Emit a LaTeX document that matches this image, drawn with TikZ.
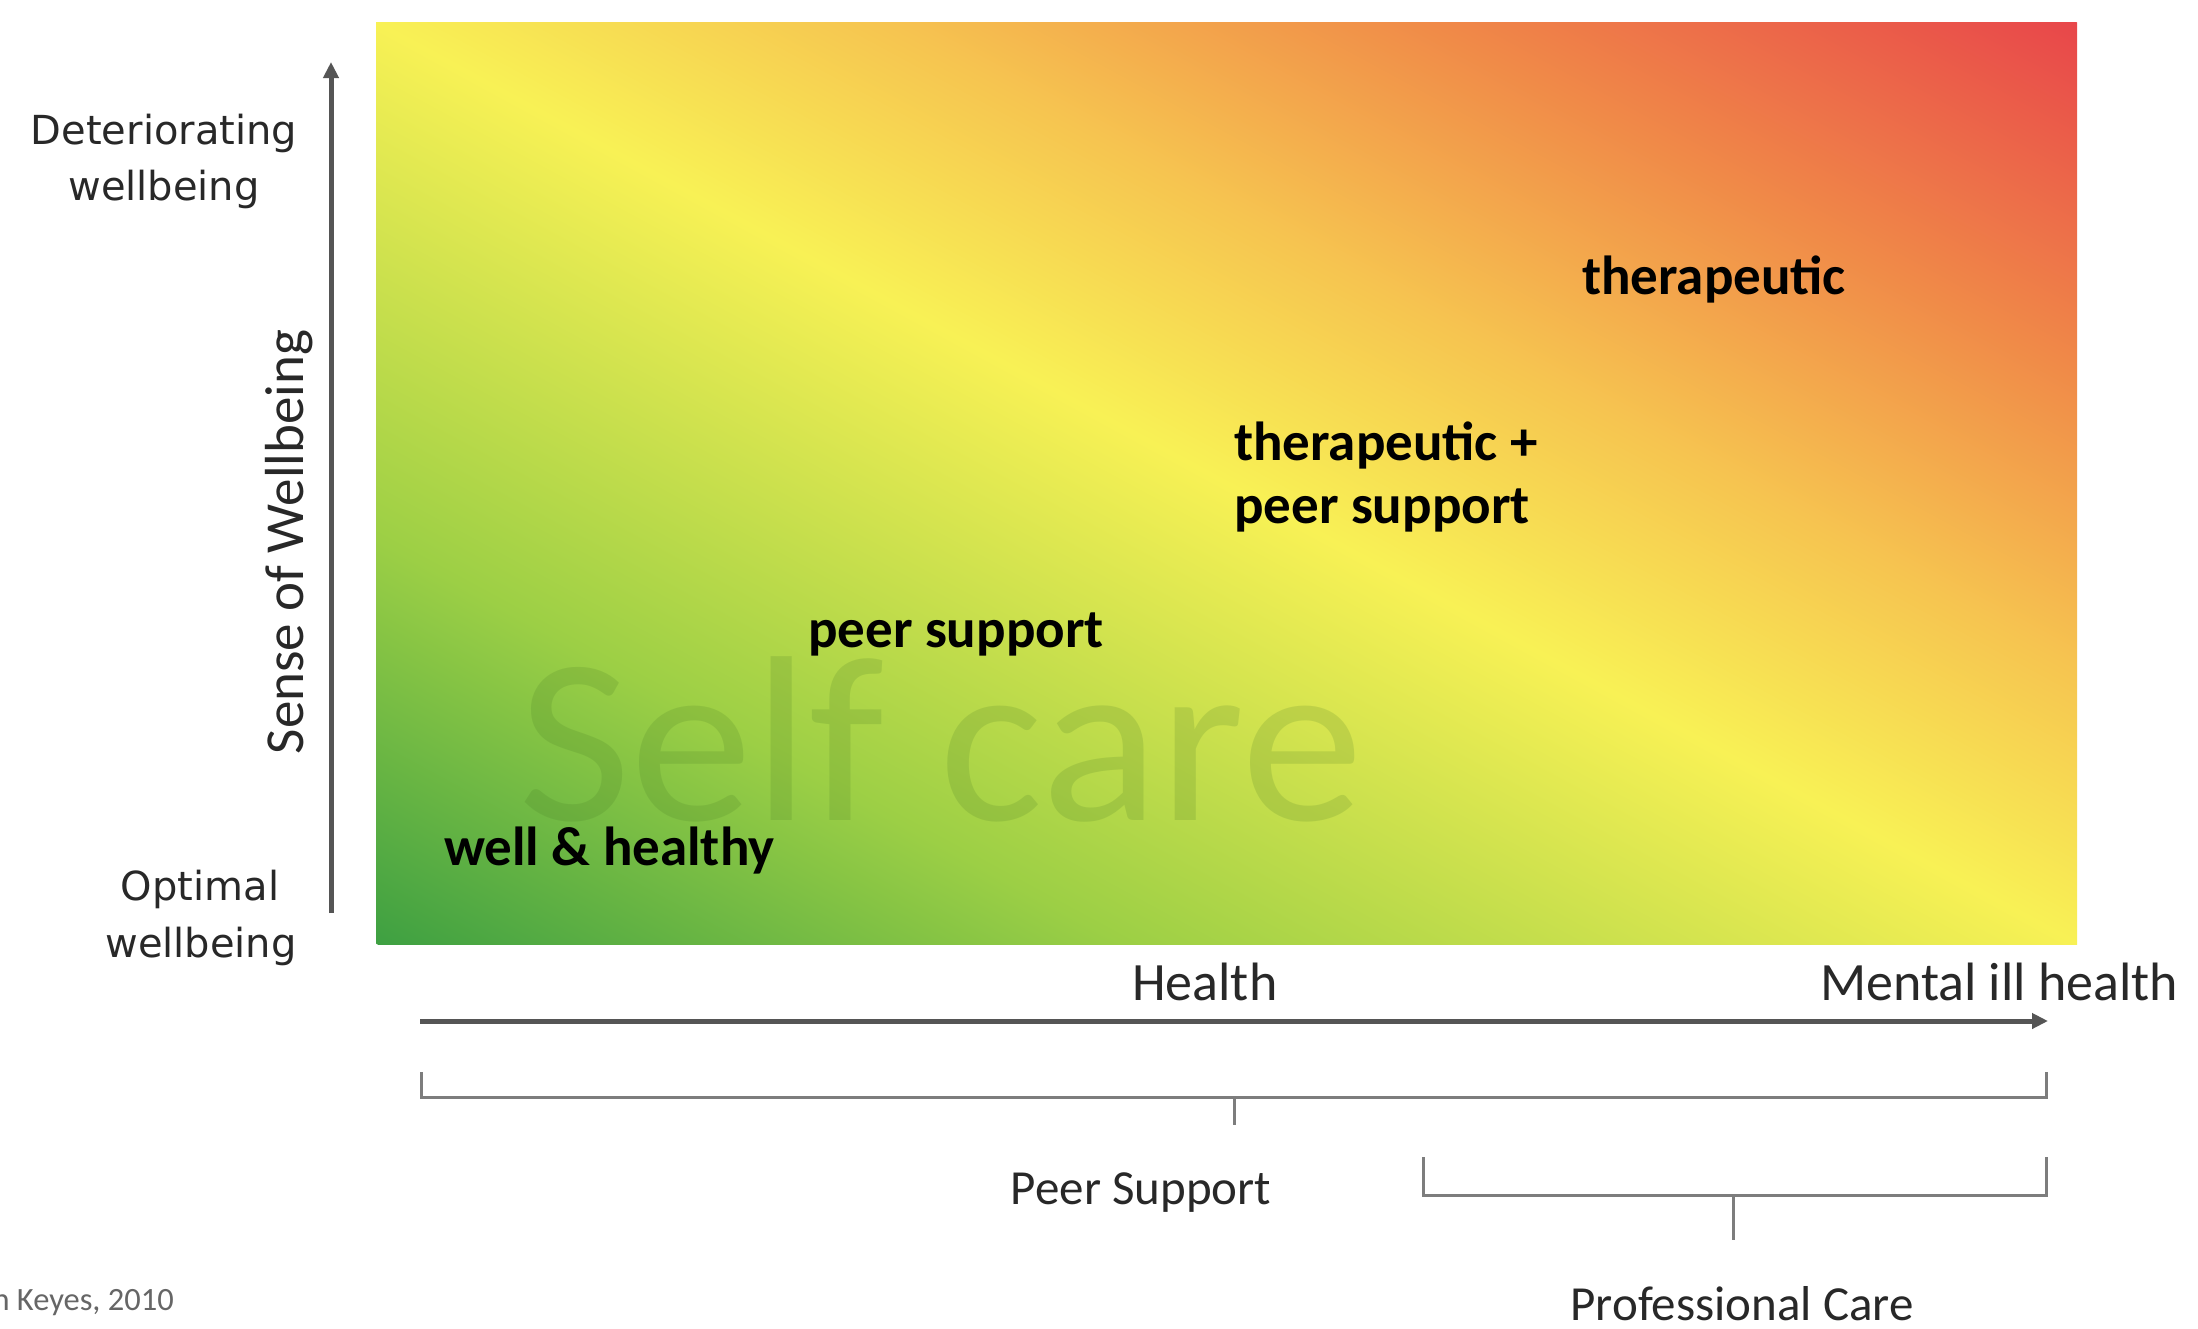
\documentclass[tikz,border=0pt]{standalone}
\usepackage{fontspec}
\setmainfont{Carlito}
\newfontfamily\dejavu{DejaVu Sans}
\usetikzlibrary{arrows.meta}
\definecolor{gA}{RGB}{62,160,66}
\definecolor{gB}{RGB}{156,207,69}
\definecolor{gC}{RGB}{248,241,85}
\definecolor{gD}{RGB}{246,196,80}
\definecolor{gE}{RGB}{240,138,72}
\definecolor{gF}{RGB}{232,70,74}
\definecolor{axisgray}{RGB}{85,85,85}
\definecolor{bracegray}{RGB}{125,125,125}
\definecolor{labgray}{RGB}{40,40,40}
\definecolor{wmark}{RGB}{60,110,30}
\pgfdeclarehorizontalshading{wellgrad}{100bp}{color(0bp)=(gA); color(25bp)=(gA); color(36bp)=(gB); color(50bp)=(gC); color(57.5bp)=(gD); color(65.5bp)=(gE); color(75bp)=(gF); color(100bp)=(gF)}
\begin{document}
\begin{tikzpicture}[x=1pt,y=-1pt,
  sidelab/.style={inner sep=0pt, anchor=base, text=labgray, font=\dejavu\fontsize{40}{48}\selectfont},
  axlab/.style={inner sep=0pt, anchor=base west, text=labgray, font=\fontsize{54}{64}\selectfont},
  brlab/.style={inner sep=0pt, anchor=base, text=labgray, font=\fontsize{49}{58}\selectfont},
  zonelab/.style={inner sep=0pt, anchor=base west, text=black, font=\bfseries\fontsize{55}{64}\selectfont},
  axisline/.style={draw=axisgray, line width=5pt, -{Triangle[length=16pt,width=15pt]}},
  braceline/.style={draw=bracegray, line width=3pt}]
\useasboundingbox (0,0) rectangle (2198,1328);
\fill[white] (0,0) rectangle (2198,1328);
% gradient field: green (bottom left) -> yellow (TL-BR diagonal) -> red (top right)
\coordinate (fc) at (1226.5,483);
\begin{scope}
  \clip (376,22) rectangle (2077,944);
  \begin{scope}[transform canvas={rotate around={61.57:(fc)}}]
    \shade[shading=wellgrad] (416.5,-517) rectangle (2036.5,1483);
  \end{scope}
\end{scope}
% watermark
\node[inner sep=0pt, anchor=base west, text=wmark, text opacity=0.16, xscale=1.04, font=\fontsize{236}{260}\selectfont] (selfcare) at (518,820) {Self care};
% zone labels
\node[zonelab] (well) at (444,865) {well \& healthy};
\node[zonelab] (peer) at (808,647) {peer support};
\node[zonelab] (tp1) at (1234,460) {therapeutic +};
\node[zonelab] (tp2) at (1234,523) {peer support};
\node[zonelab] (ther) at (1582,294) {therapeutic};
% y axis
\coordinate (yb) at (331,913);
\coordinate (yt) at (331,62);
\draw[axisline] (yb) -- (yt);
\node[sidelab] (det1) at (164,144) {Deteriorating};
\node[sidelab] (det2) at (164,200) {wellbeing};
\node[sidelab] (opt1) at (200,900) {Optimal};
\node[sidelab] (opt2) at (201,957) {wellbeing};
\node[inner sep=0pt, anchor=base, rotate=90, text=labgray, font=\fontsize{55}{64}\selectfont] (sense) at (303,542) {Sense of Wellbeing};
% x axis
\coordinate (xl) at (420,1021);
\coordinate (xr) at (2048,1021);
\draw[axisline] (xl) -- (xr);
\node[axlab] (health) at (1132,1000) {Health};
\node[axlab] (ill) at (1820,1000) {Mental ill health};
% upper brace
\coordinate (b1a) at (421,1072);
\coordinate (b1b) at (421,1097);
\coordinate (b1c) at (2046,1097);
\coordinate (b1d) at (2046,1072);
\coordinate (b1m) at (1234,1097);
\coordinate (b1t) at (1234,1125);
\draw[braceline] (b1a) -- (b1b) -- (b1c) -- (b1d);
\draw[braceline] (b1m) -- (b1t);
\node[brlab] (peerlab) at (1141,1204) {Peer Support};
% lower brace
\coordinate (b2a) at (1423,1157);
\coordinate (b2b) at (1423,1195);
\coordinate (b2c) at (2046,1195);
\coordinate (b2d) at (2046,1157);
\coordinate (b2m) at (1733,1195);
\coordinate (b2t) at (1733,1240);
\draw[braceline] (b2a) -- (b2b) -- (b2c) -- (b2d);
\draw[braceline] (b2m) -- (b2t);
\node[brlab] (proflab) at (1742,1320) {Professional Care};
% citation
\node[inner sep=0pt, anchor=base east, text=black!60, font=\fontsize{32.5}{38}\selectfont] (cite) at (174,1310) {Based on Keyes, 2010};
\end{tikzpicture}
\end{document}
